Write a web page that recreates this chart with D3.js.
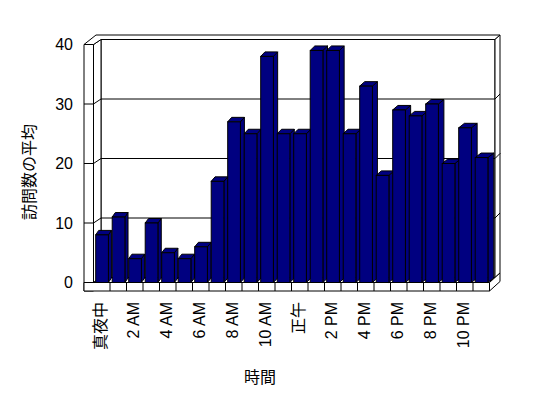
<!DOCTYPE html>
<html><head><meta charset="utf-8">
<script src="https://cdn.jsdelivr.net/npm/d3@7"></script>
<style>
html,body{margin:0;padding:0;background:#fff;}
svg{display:block;}
text{font-family:"Liberation Sans","Noto Sans CJK JP",sans-serif;fill:#000;}
</style></head>
<body>
<svg id="c" width="548" height="398"></svg>
<script>
const categories = ["真夜中","1 AM","2 AM","3 AM","4 AM","5 AM","6 AM","7 AM","8 AM","9 AM","10 AM","11 AM",
  "正午","1 PM","2 PM","3 PM","4 PM","5 PM","6 PM","7 PM","8 PM","9 PM","10 PM","11 PM"];
const visits = [8,11,4,10,5,4,6,17,27,25,38,25,25,39,39,25,33,18,29,28,30,20,26,21];
const yTicks = [0,10,20,30,40];
const shownLabels = ["真夜中","2 AM","4 AM","6 AM","8 AM","10 AM","正午","2 PM","4 PM","6 PM","8 PM","10 PM"];
const yTitle = "訪問数の平均";
const xTitle = "時間";

const svg = d3.select("#c");
const FILL = "#000080";

const x = d3.scaleBand().domain(categories).range([93.5, 489.5]).paddingInner(0).paddingOuter(0);
const y = d3.scaleLinear().domain([0, 40]).range([282.5, 44.5]);
const wdx = 7.5, wdy = -5;      // wall depth offset
const outerX = 84, floorBottom = 291;
const x0 = x.range()[0], x1 = x.range()[1];

const line = d3.line();
const g = svg.append("g").attr("fill", "none").attr("stroke", "#000").attr("stroke-width", 1);

// back wall inner face
g.append("path").attr("fill", "#fff")
  .attr("d", line([[x0+wdx, y(40)+wdy],[x1+wdx-2, y(40)+wdy],[x1+wdx-2, y(0)+wdy],[x0+wdx, y(0)+wdy]]) + "Z");
// back wall gridlines
yTicks.filter(v => v > 0 && v < 40).forEach(v => {
  g.append("path").attr("d", line([[x0+wdx, y(v)+wdy],[x1+wdx-2, y(v)+wdy],[x1+wdx+3, y(v)+wdy-5]]));
});
// left wall inner face
g.append("path").attr("fill", "#fff")
  .attr("d", line([[x0, y(40)],[x0+wdx, y(40)+wdy],[x0+wdx, y(0)+wdy],[x0, y(0)]]) + "Z");
yTicks.filter(v => v > 0 && v < 40).forEach(v => {
  g.append("path").attr("d", line([[outerX, y(v)],[x0, y(v)],[x0+wdx, y(v)+wdy]]));
});
// wall top
g.append("path").attr("fill", "#fff")
  .attr("d", line([[outerX, y(40)],[outerX+12, y(40)-9.5],[x1+wdx+3, y(40)-9.5],[x1+wdx-2, y(40)+wdy],[x0+wdx, y(40)+wdy],[x0, y(40)]]) + "Z");
// back wall right end face
g.append("path").attr("fill", "#fff")
  .attr("d", line([[x1+wdx-2, y(40)+wdy],[x1+wdx+3, y(40)-9.5],[x1+wdx+3, y(0)-9.5],[x1+wdx-2, y(0)+wdy]]) + "Z");
yTicks.filter(v => v > 0 && v < 40).forEach(v => {
  g.append("path").attr("d", line([[x1+wdx-2, y(v)+wdy],[x1+wdx+3, y(v)+wdy-5]]));
});
// left wall front face
g.append("path").attr("fill", "#fff")
  .attr("d", line([[outerX, y(40)],[x0, y(40)],[x0, floorBottom],[outerX, floorBottom]]) + "Z");
yTicks.filter(v => v > 0 && v < 40).forEach(v => {
  g.append("path").attr("d", line([[outerX, y(v)],[x0, y(v)]]));
});
// floor top
g.append("path").attr("fill", "#fff")
  .attr("d", line([[x0, y(0)],[x0+wdx, y(0)+wdy],[x1+wdx-2, y(0)+wdy],[x1, y(0)]]) + "Z");
// floor front face
g.append("path").attr("fill", "#fff")
  .attr("d", line([[outerX, y(0)],[x1, y(0)],[x1, floorBottom],[outerX, floorBottom]]) + "Z");
categories.forEach((c, i) => {
  if (i > 0) g.append("path").attr("d", line([[x(c), y(0)],[x(c), floorBottom]]));
});
// floor right end face
g.append("path").attr("fill", "#fff")
  .attr("d", line([[x1, y(0)],[x1+wdx+3, y(0)-9.5],[x1+wdx+3, floorBottom-9.5],[x1, floorBottom]]) + "Z");

// bars
const bars = svg.append("g").attr("stroke", "#000").attr("stroke-width", 1).attr("stroke-linejoin", "miter");
categories.forEach((c, i) => {
  const v = visits[i];
  const bx0 = x(c) + 2.2, bx1 = bx0 + 12.7;
  const t = (x(c) - x0) / (x1 - x0);
  const dx = 3 + 3 * t, dy = -4.5;
  const yt = y(v), yb = y(0);
  const gb = bars.append("g").attr("fill", FILL);
  gb.append("path").attr("d", line([[bx1, yt],[bx1+dx, yt+dy],[bx1+dx, yb+dy],[bx1, yb]]) + "Z");
  gb.append("path").attr("d", line([[bx0, yt],[bx0+dx, yt+dy],[bx1+dx, yt+dy],[bx1, yt]]) + "Z");
  gb.append("rect").attr("x", bx0).attr("y", yt).attr("width", bx1 - bx0).attr("height", yb - yt);
});

// y tick labels
svg.append("g").selectAll("text").data(yTicks).join("text")
  .attr("x", 73).attr("y", d => y(d)).attr("text-anchor", "end")
  .attr("dominant-baseline", "central").attr("font-size", 16).text(d => d);

// x labels
svg.append("g").selectAll("text").data(shownLabels).join("text")
  .attr("transform", d => `translate(${x(d) + x.bandwidth()/2 - 1.5},302) rotate(-90)`)
  .attr("text-anchor", "end").attr("dominant-baseline", "central")
  .attr("font-size", 16).text(d => d);

// titles
svg.append("text").attr("transform", "translate(29,172) rotate(-90)")
  .attr("text-anchor", "middle").attr("dominant-baseline", "central")
  .attr("font-size", 16).text(yTitle);
svg.append("text").attr("x", 260).attr("y", 377)
  .attr("text-anchor", "middle").attr("dominant-baseline", "central")
  .attr("font-size", 16).text(xTitle);
</script>
</body></html>
